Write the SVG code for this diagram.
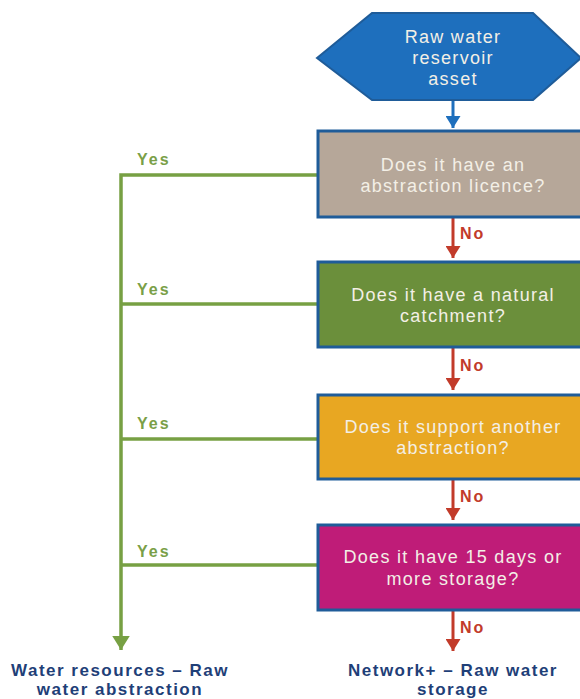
<svg xmlns="http://www.w3.org/2000/svg" width="580" height="699" viewBox="0 0 580 699">
<style>
.box{stroke:#1f5c99;stroke-width:3}
.bt{font-family:"Liberation Sans",Arial,sans-serif;font-size:18px;fill:#f3efe6;text-anchor:middle;letter-spacing:1.3px}
.yes{font-family:"Liberation Sans",Arial,sans-serif;font-size:16px;font-weight:bold;fill:#7a9f48;letter-spacing:2px}
.no{font-family:"Liberation Sans",Arial,sans-serif;font-size:16px;font-weight:bold;fill:#c23b2a;letter-spacing:2px}
.out{font-family:"Liberation Sans",Arial,sans-serif;font-size:17px;font-weight:bold;fill:#1f3f78;text-anchor:middle;letter-spacing:1.5px}
.g{stroke:#77a043;stroke-width:3.5;fill:none}
.r{stroke:#c23b2a;stroke-width:3;fill:none}
</style>
<defs>
<marker id="ag" markerWidth="5" markerHeight="5" refX="4" refY="2.5" orient="auto" markerUnits="strokeWidth"><path d="M0,0 L4,2.5 L0,5 z" fill="#77a043"/></marker>
<marker id="ar" markerWidth="5" markerHeight="5" refX="4" refY="2.5" orient="auto" markerUnits="strokeWidth"><path d="M0,0 L4,2.5 L0,5 z" fill="#c23b2a"/></marker>
<marker id="ab" markerWidth="5" markerHeight="5" refX="4" refY="2.5" orient="auto" markerUnits="strokeWidth"><path d="M0,0 L4,2.5 L0,5 z" fill="#1e6fbd"/></marker>
</defs>
<rect width="580" height="699" fill="#ffffff"/>
<g id="connectors">
<line x1="453" y1="101" x2="453" y2="128" stroke="#1e6fbd" stroke-width="3" marker-end="url(#ab)"/>
<line class="r" x1="453" y1="218" x2="453" y2="258" marker-end="url(#ar)"/>
<line class="r" x1="453" y1="348" x2="453" y2="390" marker-end="url(#ar)"/>
<line class="r" x1="453" y1="480" x2="453" y2="520" marker-end="url(#ar)"/>
<line class="r" x1="453" y1="611" x2="453" y2="651" marker-end="url(#ar)"/>
<polyline class="g" points="317,175 121,175 121,650" marker-end="url(#ag)"/>
<line class="g" x1="121" y1="304" x2="317" y2="304"/>
<line class="g" x1="121" y1="439" x2="317" y2="439"/>
<line class="g" x1="121" y1="565" x2="317" y2="565"/>
<text class="no" x="460" y="239">No</text>
<text class="no" x="460" y="371">No</text>
<text class="no" x="460" y="502">No</text>
<text class="no" x="460" y="633">No</text>
<text class="yes" x="137" y="165">Yes</text>
<text class="yes" x="137" y="295">Yes</text>
<text class="yes" x="137" y="429">Yes</text>
<text class="yes" x="137" y="557">Yes</text>
</g>
<g id="start">
<polygon points="317,58 372,13 533,13 581,58 533,100 372,100" fill="#1e6fbd" stroke="#1f5c99" stroke-width="2"/>
<text class="bt" x="453" y="43">Raw water</text>
<text class="bt" x="453" y="64">reservoir</text>
<text class="bt" x="453" y="85">asset</text>
</g>
<g id="q1">
<rect class="box" x="318" y="131" width="270" height="86" fill="#b6a799"/>
<text class="bt" x="453" y="171">Does it have an</text>
<text class="bt" x="453" y="192">abstraction licence?</text>
</g>
<g id="q2">
<rect class="box" x="318" y="262" width="270" height="85" fill="#6b8f3b"/>
<text class="bt" x="453" y="301">Does it have a natural</text>
<text class="bt" x="453" y="322">catchment?</text>
</g>
<g id="q3">
<rect class="box" x="318" y="395" width="270" height="84" fill="#e8a722"/>
<text class="bt" x="453" y="433">Does it support another</text>
<text class="bt" x="453" y="454">abstraction?</text>
</g>
<g id="q4">
<rect class="box" x="318" y="525" width="270" height="85" fill="#bf1c78"/>
<text class="bt" x="453" y="563">Does it have 15 days or</text>
<text class="bt" x="453" y="585">more storage?</text>
</g>
<g id="out1">
<text class="out" x="120" y="676">Water resources – Raw</text>
<text class="out" x="120" y="695">water abstraction</text>
</g>
<g id="out2">
<text class="out" x="453" y="676">Network+ – Raw water</text>
<text class="out" x="453" y="695">storage</text>
</g>
</svg>
